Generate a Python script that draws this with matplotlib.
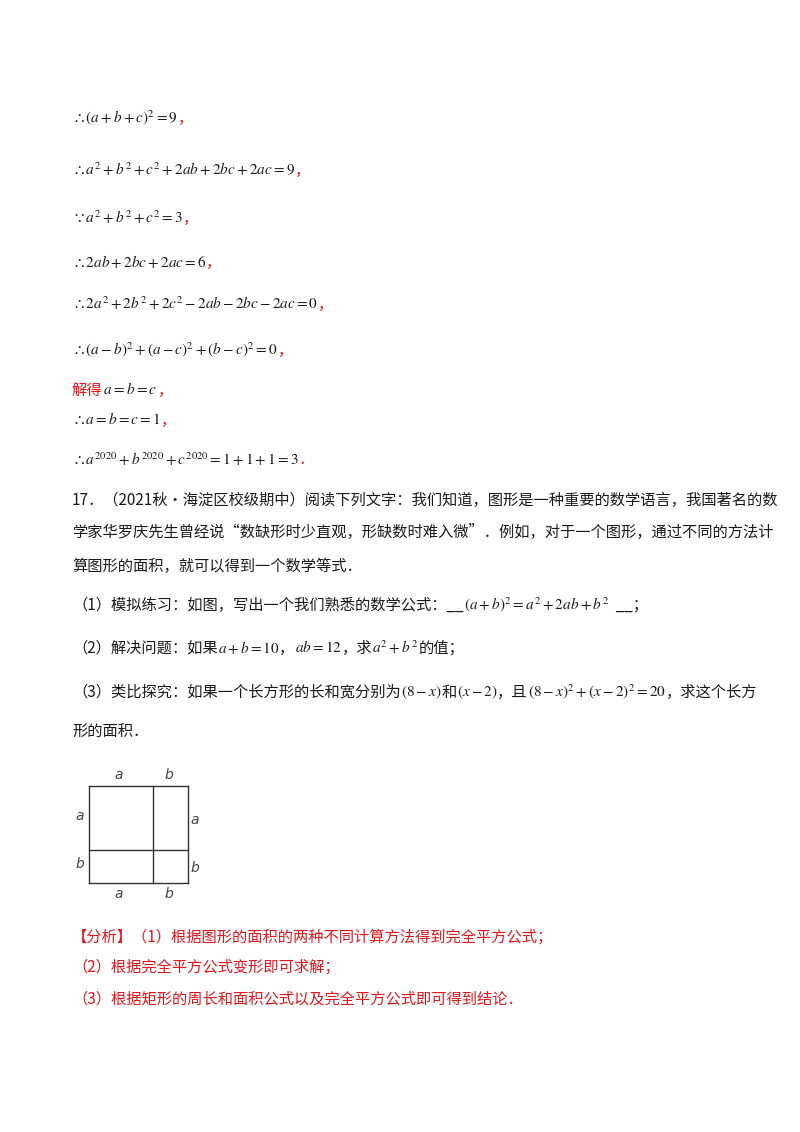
import matplotlib
matplotlib.use("Agg")
import matplotlib.pyplot as plt

plt.rcParams['font.family'] = ['Noto Sans CJK SC', 'DejaVu Sans']
plt.rcParams['mathtext.fontset'] = 'stix'

RED = '#e8141b'
BLACK = '#1a1a1a'

# each line: (y, [(text, colour), ...])
solution_lines = [
    (118, [(r'$\therefore(a+b+c)^2=9$', BLACK), ('，', RED)]),
    (170, [(r'$\therefore a^2+b^2+c^2+2ab+2bc+2ac=9$', BLACK), ('，', RED)]),
    (218, [(r'$\because a^2+b^2+c^2=3$', BLACK), ('，', RED)]),
    (262, [(r'$\therefore 2ab+2bc+2ac=6$', BLACK), ('，', RED)]),
    (304, [(r'$\therefore 2a^2+2b^2+2c^2-2ab-2bc-2ac=0$', BLACK), ('，', RED)]),
    (350, [(r'$\therefore(a-b)^2+(a-c)^2+(b-c)^2=0$', BLACK), ('，', RED)]),
    (390, [('解得', RED), (r'$\,a=b=c$', BLACK), ('，', RED)]),
    (420, [(r'$\therefore a=b=c=1$', BLACK), ('，', RED)]),
    (460, [(r'$\therefore a^{2020}+b^{2020}+c^{2020}=1+1+1=3$', BLACK), ('．', RED)]),
]

problem_lines = [
    (500, [('17．（2021秋•海淀区校级期中）阅读下列文字：我们知道，图形是一种重要的数学语言，我国著名的数', BLACK)]),
    (532, [('学家华罗庆先生曾经说“数缺形时少直观，形缺数时难入微”．例如，对于一个图形，通过不同的方法计', BLACK)]),
    (566, [('算图形的面积，就可以得到一个数学等式．', BLACK)]),
    (605, [('（1）模拟练习：如图，写出一个我们熟悉的数学公式：__', BLACK),
           (r'$(a+b)^2=a^2+2ab+b^2$', BLACK), ('  __；', BLACK)]),
    (648, [('（2）解决问题：如果', BLACK), (r'$a+b=10$', BLACK), ('，', BLACK),
           (r'$ab=12$', BLACK), ('，求', BLACK), (r'$a^2+b^2$', BLACK), ('的值；', BLACK)]),
    (692, [('（3）类比探究：如果一个长方形的长和宽分别为', BLACK), (r'$(8-x)$', BLACK), ('和', BLACK),
           (r'$(x-2)$', BLACK), ('，且', BLACK), (r'$(8-x)^2+(x-2)^2=20$', BLACK),
           ('，求这个长方', BLACK)]),
    (732, [('形的面积．', BLACK)]),
]

analysis_lines = [
    (937, [('【分析】（1）根据图形的面积的两种不同计算方法得到完全平方公式；', RED)]),
    (967, [('（2）根据完全平方公式变形即可求解；', RED)]),
    (999, [('（3）根据矩形的周长和面积公式以及完全平方公式即可得到结论．', RED)]),
]

# square figure: outer box, split positions, side labels
box_x = [89, 153, 188]
box_y = [786, 850, 883]
top_labels = ['a', 'b']
side_labels = ['a', 'b']

fig = plt.figure(figsize=(8, 11.32), dpi=100)
ax = fig.add_axes([0, 0, 1, 1])
ax.set_xlim(0, 800)
ax.set_ylim(1132, 0)
ax.axis('off')
renderer = fig.canvas.get_renderer()


def draw_line(y, parts, x0=72, size=11):
    x = x0
    for txt, col in parts:
        t = ax.text(x, y, txt, color=col, fontsize=size, va='center', ha='left')
        bb = t.get_window_extent(renderer=renderer)
        x += bb.width


for y, parts in solution_lines + problem_lines + analysis_lines:
    draw_line(y, parts)

lw = 1.0
for yy in box_y:
    ax.plot([box_x[0], box_x[2]], [yy, yy], color='#333333', lw=lw)
for xx in box_x:
    ax.plot([xx, xx], [box_y[0], box_y[2]], color='#333333', lw=lw)

lab = dict(fontsize=10, color='#444444', ha='center', va='center', style='italic', family='DejaVu Sans')
for i, s in enumerate(top_labels):
    cx = (box_x[i] + box_x[i + 1]) / 2
    ax.text(cx - 2, box_y[0] - 11, s, **lab)
    ax.text(cx - 2, box_y[2] + 11, s, **lab)
for i, s in enumerate(side_labels):
    cy = (box_y[i] + box_y[i + 1]) / 2
    ax.text(box_x[0] - 9, cy - 2, s, **lab)
    ax.text(box_x[2] + 7, cy + 2, s, **lab)

fig.savefig('out.png', dpi=100)
